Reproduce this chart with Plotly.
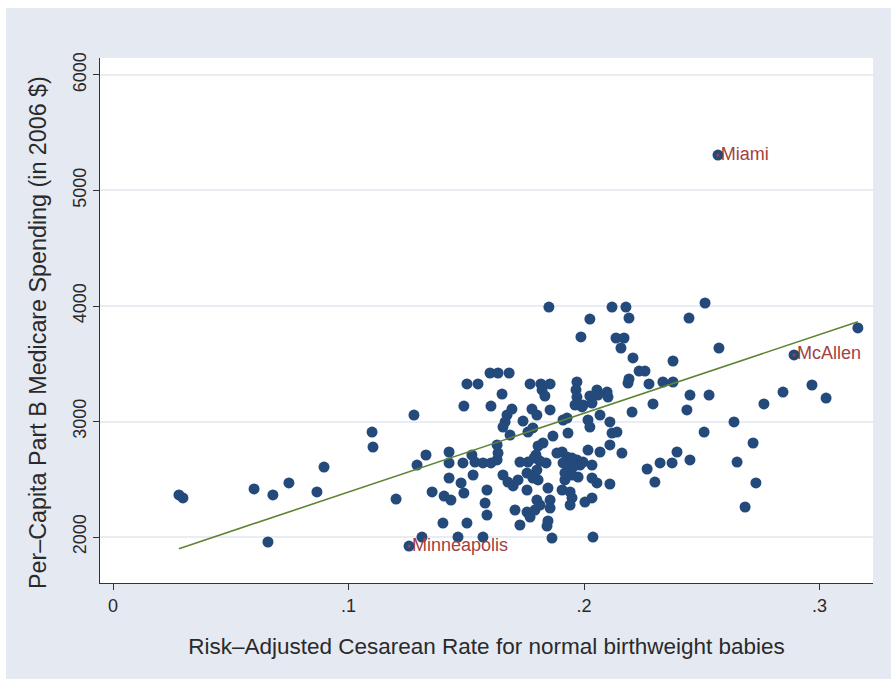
import numpy as np
import plotly.graph_objects as go

# Hospital referral regions: risk-adjusted cesarean rate vs. Part B spending
cesarean_rate = [
    0.0280, 0.0297, 0.0599, 0.0679, 0.0747, 0.0866, 0.0896, 0.1100, 0.1104, 0.0658,
    0.1202, 0.1278, 0.1329, 0.1291, 0.1427, 0.1427, 0.1486, 0.1524, 0.1537, 0.1571,
    0.1605, 0.1631, 0.1631, 0.1635, 0.1529, 0.1478, 0.1490, 0.1427, 0.1355, 0.1406,
    0.1435, 0.1588, 0.1580, 0.1588, 0.1401, 0.1503, 0.1312, 0.1465, 0.1571, 0.1503,
    0.1550, 0.1601, 0.1635, 0.1682, 0.1490, 0.1605, 0.1652, 0.1771, 0.1817, 0.1856,
    0.1822, 0.1834, 0.1694, 0.1673, 0.1665, 0.1656, 0.1741, 0.1779, 0.1800, 0.1856,
    0.1783, 0.1762, 0.1686, 0.1868, 0.1805, 0.1826, 0.1796, 0.1728, 0.1762, 0.1788,
    0.1813, 0.1839, 0.1800, 0.1758, 0.1783, 0.1805, 0.1720, 0.1656, 0.1677, 0.1699,
    0.1758, 0.1800, 0.1707, 0.1758, 0.1771, 0.1728, 0.1792, 0.1813, 0.1856, 0.1856,
    0.1847, 0.1843, 0.1864, 0.1851, 0.1847, 0.2025, 0.1987, 0.1970, 0.1966, 0.1970,
    0.1962, 0.1992, 0.2025, 0.2055, 0.2059, 0.2098, 0.2102, 0.1996, 0.2034, 0.1911,
    0.1928, 0.2017, 0.2025, 0.1932, 0.1885, 0.1907, 0.1928, 0.1949, 0.1970, 0.1983,
    0.1953, 0.1932, 0.1911, 0.2017, 0.1996, 0.2034, 0.1975, 0.1919, 0.1919, 0.1949,
    0.2034, 0.2055, 0.1907, 0.1941, 0.1949, 0.1941, 0.2004, 0.2034, 0.2038, 0.2068,
    0.2068, 0.2119, 0.2178, 0.2191, 0.2136, 0.2170, 0.2157, 0.2208, 0.2378, 0.2234,
    0.2259, 0.2191, 0.2187, 0.2276, 0.2335, 0.2378, 0.2293, 0.2204, 0.2110, 0.2119,
    0.2140, 0.2110, 0.2161, 0.2110, 0.2268, 0.2323, 0.2374, 0.2395, 0.2301, 0.2514,
    0.2446, 0.2573, 0.2450, 0.2531, 0.2437, 0.2637, 0.2510, 0.2718, 0.2450, 0.2650,
    0.2730, 0.2684, 0.2764, 0.2845, 0.2968, 0.3028, 0.3163,
]
part_b_spending = [
    2364, 2338, 2416, 2364, 2468, 2390, 2606, 2909, 2779, 1957,
    2329, 3056, 2710, 2623, 2736, 2641, 2641, 2710, 2649, 2641,
    2641, 2667, 2797, 2727, 2537, 2468, 2381, 2511, 2390, 2355,
    2320, 2407, 2294, 2190, 2121, 2121, 2000, 2000, 2000, 3325,
    3325, 3420, 3420, 3420, 3134, 3134, 3238, 3325, 3325, 3325,
    3273, 3221, 3108, 3056, 2996, 2952, 3004, 3108, 3056, 3100,
    2944, 2909, 2883, 2874, 2788, 2814, 2710, 2649, 2649, 2684,
    2658, 2641, 2580, 2554, 2511, 2494, 2494, 2537, 2476, 2442,
    2407, 2320, 2234, 2216, 2173, 2104, 2234, 2277, 2320, 2251,
    2139, 2095, 1991, 3991, 2424, 3887, 3732, 3342, 3273, 3212,
    3143, 3126, 3221, 3273, 3229, 3255, 3212, 3143, 3160, 3013,
    3030, 3013, 2952, 2900, 2727, 2736, 2693, 2684, 2667, 2623,
    2606, 2606, 2641, 2753, 2649, 2623, 2519, 2494, 2554, 2537,
    2511, 2468, 2407, 2390, 2338, 2277, 2303, 2338, 2000, 3056,
    2736, 3991, 3991, 3896, 3723, 3723, 3636, 3550, 3524, 3437,
    3437, 3368, 3333, 3325, 3342, 3342, 3152, 3082, 2996, 2900,
    2909, 2797, 2727, 2459, 2589, 2641, 2641, 2736, 2476, 4026,
    3896, 3636, 3229, 3229, 3100, 2996, 2909, 2814, 2667, 2649,
    2468, 2260, 3152, 3255, 3316, 3203, 3810,
]

# Regions called out by name
city_names = ["Miami", "McAllen", "Minneapolis"]
city_rate = [0.2569, 0.2892, 0.1257]
city_spending = [5307, 3576, 1922]

# Fitted line (enrollee-weighted linear fit): intercept and slope
fit_intercept = 1708
fit_slope = 6816

x_ticks = [0, 0.1, 0.2, 0.3]
x_tick_text = ["0", ".1", ".2", ".3"]
y_ticks = [2000, 3000, 4000, 5000, 6000]

all_x = np.array(cesarean_rate + city_rate)
all_y = np.array(part_b_spending + city_spending)

# Fitted values across the observed range of cesarean rates
fit_x = np.array([all_x.min(), all_x.max()])
fit_y = fit_intercept + fit_slope * fit_x

NAVY = "#234a7b"
MAROON = "#a3413f"
GREEN = "#5e8434"
BG = "#e5e9f2"
FONT = "Liberation Sans, Arial, Helvetica, sans-serif"
TEXT = "#2a2a2a"

fig = go.Figure()
fig.add_trace(go.Scatter(
    x=all_x, y=all_y, mode="markers",
    marker=dict(color=NAVY, size=11, line=dict(width=0)),
    hoverinfo="x+y", showlegend=False,
))
fig.add_trace(go.Scatter(
    x=city_rate, y=city_spending, mode="markers+text",
    text=city_names, textposition="middle right",
    textfont=dict(family=FONT, size=18, color=MAROON),
    marker=dict(color=MAROON, size=3, line=dict(width=0)),
    showlegend=False,
))
fig.add_trace(go.Scatter(
    x=fit_x, y=fit_y, mode="lines",
    line=dict(color=GREEN, width=1.6),
    showlegend=False,
))

fig.update_layout(
    width=891, height=679,
    margin=dict(l=100, r=18, t=58, b=96),
    paper_bgcolor=BG, plot_bgcolor="white",
    font=dict(family=FONT, color=TEXT),
    shapes=[
        dict(type="rect", xref="paper", yref="paper",
             x0=-0.2, x1=1.1, y0=(583 - 8) / 525, y1=1.2,
             fillcolor="white", line=dict(width=0), layer="above"),
        dict(type="rect", xref="paper", yref="paper",
             x0=-0.2, x1=(6 - 100) / 773, y0=-0.3, y1=1.2,
             fillcolor="white", line=dict(width=0), layer="above"),
    ],
    annotations=[
        # vertical axis title, set slightly below the plot centre
        dict(text="Per\u2013Capita Part B Medicare Spending (in 2006 $)",
             xref="paper", yref="paper", x=(38 - 100) / 773, y=(583 - 333) / 525,
             xanchor="center", yanchor="middle", textangle=-90, showarrow=False,
             font=dict(family=FONT, size=23.3, color=TEXT)),
    ],
)
fig.update_xaxes(
    range=[-0.00552, 0.32272],
    tickmode="array", tickvals=x_ticks, ticktext=x_tick_text,
    showgrid=False, zeroline=False,
    showline=True, linecolor="#333333", linewidth=1,
    ticks="outside", ticklen=6, tickcolor="#333333", tickwidth=1,
    tickfont=dict(size=18, color=TEXT),
    title=dict(text="Risk\u2013Adjusted Cesarean Rate for normal birthweight babies",
               font=dict(size=22.5, color=TEXT), standoff=23),
)
fig.update_yaxes(
    range=[1602, 6147],
    tickmode="array", tickvals=y_ticks,
    tickangle=-90,
    showgrid=True, gridcolor="#e8edf4", gridwidth=1.5,
    zeroline=False,
    showline=True, linecolor="#333333", linewidth=1,
    ticks="outside", ticklen=6, tickcolor="#333333", tickwidth=1,
    tickfont=dict(size=18, color=TEXT),
)

fig.write_html("out.html")
